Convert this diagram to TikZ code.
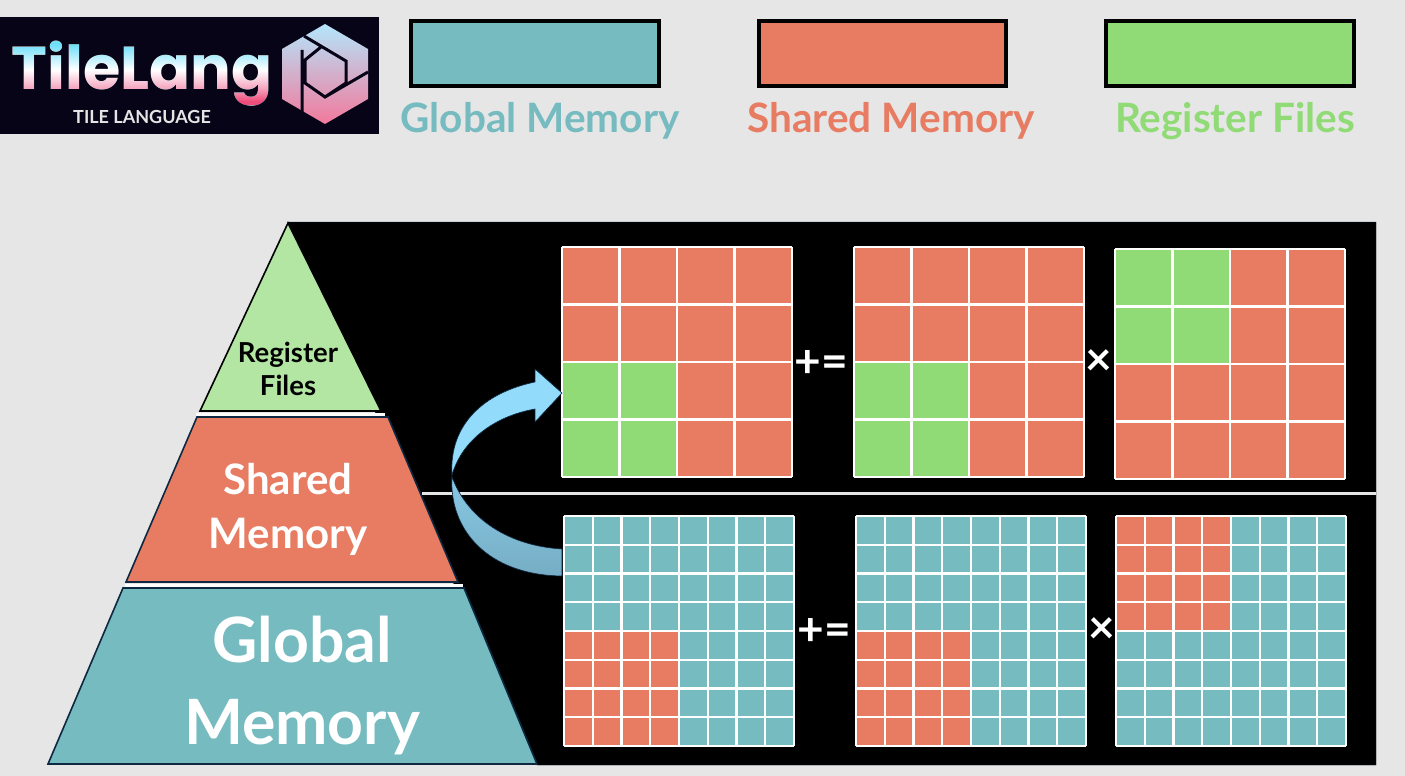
\documentclass[tikz,border=0pt]{standalone}
\usepackage{fontspec}
\setmainfont{Lato}
\newfontfamily\logofont{Poppins}
\usetikzlibrary{arrows.meta,positioning,calc}
\definecolor{TilePaper}{HTML}{E6E6E6}
\definecolor{TileTeal}{HTML}{75BBC0}
\definecolor{TileRed}{HTML}{E77C62}
\definecolor{TileGreen}{HTML}{90DB76}
\definecolor{TileLeaf}{HTML}{B3E6A2}
\definecolor{TileNavy}{HTML}{0E2841}
\definecolor{TileInk}{HTML}{080418}
\definecolor{TileSky}{HTML}{93DBFA}
\definecolor{TileDusk}{HTML}{76ADC4}
\definecolor{TileRose}{HTML}{EE4C7A}
\definecolor{TilePink}{HTML}{F5A5BF}
\definecolor{TileIce}{HTML}{70DFFA}
\pgfdeclareverticalshading{tilefade}{100bp}{
  color(0bp)=(TileRose); color(27bp)=(TileRose); color(37bp)=(TilePink);
  color(51bp)=(white); color(70bp)=(TileIce); color(100bp)=(TileIce)}
% one tile array: size n, base colour, accent colour, row where the accent quarter starts
\newcommand{\tilegrid}[7]{
  \fill[#4] (#1,#2) rectangle ++(230,230);
  \fill[#5] (#1,#2+#6*230) rectangle ++(115,115);
  \foreach \i in {0,...,#3}
    \draw[white, line width=#7] (#1+\i*230/#3,#2) -- ++(0,230) (#1,#2+\i*230/#3) -- ++(230,0);
}
\begin{document}
\begin{tikzpicture}[x=1pt,y=-1pt,
    legendbox/.style={draw=black, line width=3.5pt},
    legendtext/.style={font=\fontsize{40.5}{40}\selectfont\bfseries, anchor=center, inner sep=0pt},
    level/.style={draw=TileNavy, line width=1.6pt, line join=miter},
    gap/.style={draw=white, line width=3pt},
    pyrtext/.style={align=center, inner sep=0pt, text=white, font=\bfseries},
    optext/.style={text=white, inner sep=0pt, font=\fontsize{46}{46}\selectfont\bfseries}
  ]
    \useasboundingbox (0,0) rectangle (1405,776);
    \fill[TilePaper] (0,0) rectangle (1405,776);

    % logo
    \fill[TileInk] (0,17) rectangle (379,134);
    \node[text=white, inner sep=0pt, font=\logofont\fontsize{60.5}{60}\selectfont\bfseries] (logo) at (142,74) {TileLang};
    \shade[shading=tilefade, blend mode=darken] (8,38) rectangle (276,104);
    \node[text=white!90!black, inner sep=0pt, font=\fontsize{18}{18}\selectfont\bfseries] (logosub) at (142,117) {TILE LANGUAGE};
    \shade[top color=TileSky!70!white, middle color=white, bottom color=TileRose!75!white]
      (325,24) -- (368,49) -- (368,99) -- (325,124) -- (282,99) -- (282,49) -- cycle;
    \draw[TileInk, line width=3pt] (304,36) -- (346,61) -- (346,83) -- (325,97) -- (305,83) -- (305,60) -- (321,47)
      (325,97) -- (368,72) (302,50) -- (302,112);

    % legend
    \draw[legendbox, fill=TileTeal] (411,21) rectangle (659,86);
    \draw[legendbox, fill=TileRed] (759,21) rectangle (1006,86);
    \draw[legendbox, fill=TileGreen] (1106,21) rectangle (1354,86);
    \node[legendtext, text=TileTeal] (keyglobal) at (540,121) {Global Memory};
    \node[legendtext, text=TileRed] (keyshared) at (891,121) {Shared Memory};
    \node[legendtext, text=TileGreen] (keyregister) at (1235,121) {Register Files};

    % panel behind the arrays
    \fill[black, draw=TileNavy] (288,222) -- (1376,222) -- (1376,765) -- (537,765) -- cycle;
    \draw[draw=TilePaper, line width=3pt] (422,493.5) -- (1376,493.5);

    % pyramid
    \draw[level, fill=TileLeaf, draw=black] (288,223) -- (381,411) -- (200,411) -- cycle;
    \draw[gap] (196,414.5) -- (385,414.5);
    \draw[level, fill=TileRed] (197,417) -- (388,417) -- (458,582) -- (126,582) -- cycle;
    \draw[gap] (125,585.5) -- (463,585.5);
    \draw[level, fill=TileTeal] (123,588) -- (464,588) -- (537,764) -- (48,764) -- cycle;
    \node[pyrtext, text=black, font=\fontsize{27.5}{33}\selectfont\bfseries] (regfiles) at (288,369) {Register\\Files};
    \node[pyrtext, font=\fontsize{42}{54}\selectfont\bfseries] (shared) at (288,509) {Shared\\Memory};
    \node[pyrtext, font=\fontsize{62.5}{82}\selectfont\bfseries] (global) at (302,686) {Global\\Memory};

    % register level arrays
    \tilegrid{562}{247}{4}{TileRed}{TileGreen}{0.5}{2.6pt}
    \tilegrid{854}{247}{4}{TileRed}{TileGreen}{0.5}{2.6pt}
    \tilegrid{1115}{249}{4}{TileRed}{TileGreen}{0}{2.6pt}
    \node[optext] (addtop) at (821,364) {+=};
    \node[optext] (multop) at (1099,363) {×};

    % shared level arrays
    \tilegrid{564}{516}{8}{TileTeal}{TileRed}{0.5}{2.2pt}
    \tilegrid{856}{516}{8}{TileTeal}{TileRed}{0.5}{2.2pt}
    \tilegrid{1116}{516}{8}{TileTeal}{TileRed}{0}{2.2pt}
    \node[optext] (addlow) at (824,632) {+=};
    \node[optext] (multlow) at (1102,631) {×};

    % curved arrow from one level up to the next
    \shade[top color=TileSky!60!TileDusk, bottom color=TileDusk, draw=TileNavy, line width=0.6pt]
      (452,477) .. controls (449,530) and (488,575) .. (562,576) -- (562,549)
      .. controls (510,546) and (468,520) .. (452,477) -- cycle;
    \fill[TileSky, draw=TileNavy, line width=0.6pt]
      (452,475) .. controls (449,425) and (483,393) .. (535,382) -- (535,369) -- (562,393)
      -- (535,422) -- (535,409) .. controls (495,416) and (462,440) .. (452,475) -- cycle;
  \end{tikzpicture}
\end{document}
